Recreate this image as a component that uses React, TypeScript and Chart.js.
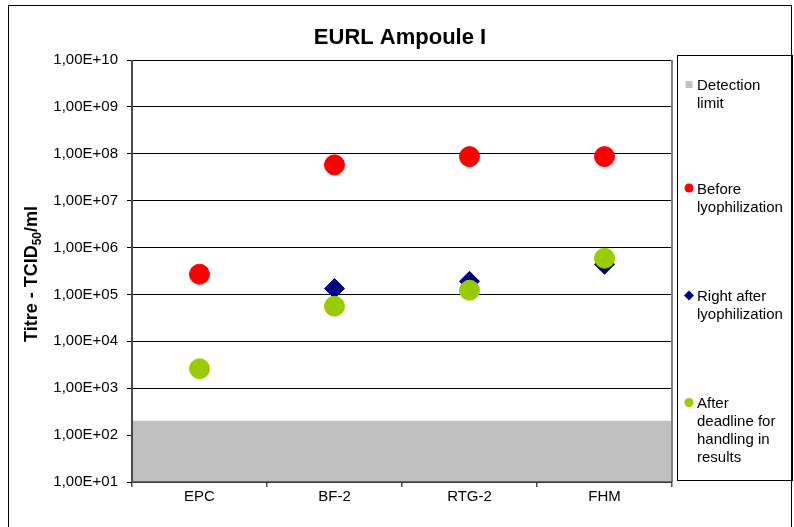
import React, { useEffect, useRef } from 'react';
import { Chart, registerables } from 'chart.js';

Chart.register(...registerables);

const categories = ['EPC', 'BF-2', 'RTG-2', 'FHM'];
const detectionLimit = [200, 200, 200, 200];
const beforeLyophilization = [2.7e5, 5.8e7, 8.7e7, 8.7e7];
const rightAfterLyophilization = [null, 1.34e5, 1.9e5, 4.4e5];
const afterDeadline = [2.6e3, 5.6e4, 1.23e5, 5.9e5];

const yTickValues = [1e1, 1e2, 1e3, 1e4, 1e5, 1e6, 1e7, 1e8, 1e9, 1e10];
const yTickLabels = [
  '1,00E+01', '1,00E+02', '1,00E+03', '1,00E+04', '1,00E+05',
  '1,00E+06', '1,00E+07', '1,00E+08', '1,00E+09', '1,00E+10',
];

const seriesNames = [
  'Detection limit',
  'Before lyophilization',
  'Right after lyophilization',
  'After deadline for handling in results',
];
const legendLines = [
  ['Detection', 'limit'],
  ['Before', 'lyophilization'],
  ['Right after', 'lyophilization'],
  ['After', 'deadline for', 'handling in', 'results'],
];
const chartTitle = 'EURL Ampoule I';
const yTitleParts = ['Titre - TCID', '50', '/ml'];

const COLORS = ['#C0C0C0', '#FF0000', '#000080', '#99CC00'];
const FONT = "'Liberation Sans', Arial, sans-serif";

const decorPlugin = {
  id: 'decor',
  beforeDraw(chart: any) {
    const ctx = chart.ctx;
    ctx.save();
    ctx.fillStyle = '#ffffff';
    ctx.fillRect(0, 0, chart.width, chart.height);
    ctx.strokeStyle = '#000000';
    ctx.lineWidth = 1;
    ctx.strokeRect(8.5, 5.5, 783, 600);
    ctx.restore();
  },
  afterDatasetsDraw(chart: any) {
    const ctx = chart.ctx;
    const a = chart.chartArea;
    ctx.save();
    ctx.strokeStyle = '#808080';
    ctx.lineWidth = 2;
    ctx.beginPath();
    ctx.moveTo(a.right, a.top);
    ctx.lineTo(a.right, a.bottom);
    ctx.stroke();
    ctx.strokeStyle = '#4a4a4a';
    ctx.lineWidth = 2;
    ctx.beginPath();
    ctx.moveTo(a.left, a.top);
    ctx.lineTo(a.left, a.bottom + 1);
    ctx.stroke();
    ctx.lineWidth = 1.5;
    ctx.beginPath();
    ctx.moveTo(a.left, a.bottom);
    ctx.lineTo(a.right, a.bottom);
    ctx.stroke();
    ctx.restore();
  },
  afterDraw(chart: any) {
    const ctx = chart.ctx;
    const a = chart.chartArea;
    ctx.save();
    // Title
    ctx.fillStyle = '#000';
    ctx.font = `bold 22px ${FONT}`;
    ctx.textAlign = 'center';
    ctx.textBaseline = 'alphabetic';
    ctx.fillText(chartTitle, 400, 43.5);

    // Y axis title with subscript
    const big = `bold 18px ${FONT}`;
    const small = `bold 12px ${FONT}`;
    ctx.font = big;
    const w0 = ctx.measureText(yTitleParts[0]).width;
    const w2 = ctx.measureText(yTitleParts[2]).width;
    ctx.font = small;
    const w1 = ctx.measureText(yTitleParts[1]).width;
    const total = w0 + w1 + w2;
    ctx.translate(37, (a.top + a.bottom) / 2 + 3);
    ctx.rotate(-Math.PI / 2);
    ctx.textAlign = 'left';
    let x = -total / 2;
    ctx.font = big;
    ctx.fillText(yTitleParts[0], x, 0);
    x += w0;
    ctx.font = small;
    ctx.fillText(yTitleParts[1], x, 4);
    x += w1;
    ctx.font = big;
    ctx.fillText(yTitleParts[2], x, 0);
    ctx.restore();

    // Legend
    ctx.save();
    ctx.strokeStyle = '#000';
    ctx.lineWidth = 1;
    ctx.strokeRect(677.5, 55.5, 115, 425);
    const firstBaselines = [90, 193.5, 301, 408];
    const mx = 689;
    ctx.font = `15px ${FONT}`;
    ctx.textAlign = 'left';
    ctx.textBaseline = 'alphabetic';
    legendLines.forEach((lines, i) => {
      const by = firstBaselines[i];
      const my = by - 5.5;
      ctx.fillStyle = COLORS[i];
      ctx.beginPath();
      if (i === 0) {
        ctx.rect(mx - 3.5, my - 3.5, 7, 7);
      } else if (i === 2) {
        ctx.moveTo(mx, my - 5);
        ctx.lineTo(mx + 5, my);
        ctx.lineTo(mx, my + 5);
        ctx.lineTo(mx - 5, my);
        ctx.closePath();
      } else {
        ctx.arc(mx, my, 4.5, 0, Math.PI * 2);
      }
      ctx.fill();
      ctx.fillStyle = '#000';
      lines.forEach((t, j) => ctx.fillText(t, 697, by + j * 18));
    });
    ctx.restore();
  },
};

export default function App() {
  const ref = useRef<HTMLCanvasElement | null>(null);

  useEffect(() => {
    document.body.style.margin = '0';
    const canvas = ref.current;
    if (!canvas) return;
    const chart = new Chart(canvas, {
      type: 'bar',
      data: {
        labels: categories,
        datasets: [
          {
            type: 'bar',
            label: seriesNames[0],
            data: detectionLimit,
            backgroundColor: COLORS[0],
            borderWidth: 0,
            barPercentage: 1,
            categoryPercentage: 1,
            order: 10,
          },
          {
            type: 'line',
            label: seriesNames[1],
            data: beforeLyophilization,
            showLine: false,
            pointStyle: 'circle',
            pointRadius: 10,
            pointBorderWidth: 1,
            backgroundColor: COLORS[1],
            borderColor: COLORS[1],
            order: 3,
          },
          {
            type: 'line',
            label: seriesNames[2],
            data: rightAfterLyophilization,
            showLine: false,
            pointStyle: 'rectRot',
            pointRadius: 10,
            pointBorderWidth: 1,
            backgroundColor: COLORS[2],
            borderColor: COLORS[2],
            order: 2,
          },
          {
            type: 'line',
            label: seriesNames[3],
            data: afterDeadline,
            showLine: false,
            pointStyle: 'circle',
            pointRadius: 10,
            pointBorderWidth: 1,
            backgroundColor: COLORS[3],
            borderColor: COLORS[3],
            order: 1,
          },
        ] as any,
      },
      options: {
        responsive: false,
        animation: false,
        layout: { padding: { left: 0, top: 60, right: 122, bottom: 0 } },
        plugins: {
          legend: { display: false },
          title: { display: false },
          tooltip: { enabled: false },
        },
        scales: {
          x: {
            type: 'category',
            offset: true,
            grid: {
              offset: true,
              drawOnChartArea: false,
              drawTicks: true,
              tickLength: 5,
              color: '#4a4a4a',
              lineWidth: 1.5,
            },
            border: { display: false },
            ticks: {
              color: '#000',
              font: { family: FONT, size: 15 },
              padding: 1,
              maxRotation: 0,
            },
            afterFit(scale: any) {
              scale.height = 45;
            },
          },
          y: {
            type: 'logarithmic',
            min: 10,
            max: 1e10,
            grid: {
              color: '#000',
              lineWidth: 1,
              tickLength: 5,
              drawTicks: true,
            },
            border: { display: false },
            ticks: {
              color: '#000',
              font: { family: FONT, size: 15 },
              padding: 9,
              autoSkip: false,
              callback: (_v: any, i: number) => yTickLabels[i],
            },
            afterBuildTicks(scale: any) {
              scale.ticks = yTickValues.map((v) => ({ value: v, major: false }));
            },
            afterFit(scale: any) {
              scale.width = 132;
            },
          },
        },
      } as any,
      plugins: [decorPlugin],
    });
    return () => chart.destroy();
  }, []);

  return (
    <div style={{ width: 794, height: 527 }}>
      <canvas ref={ref} width={794} height={527} />
    </div>
  );
}
